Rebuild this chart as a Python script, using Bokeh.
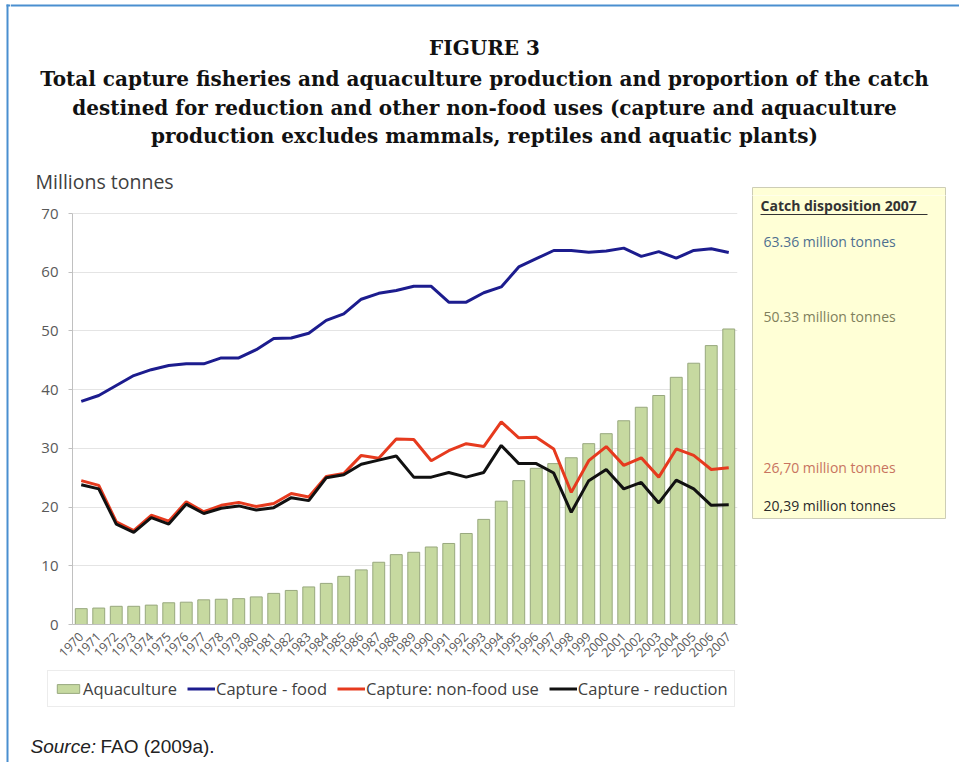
import math
from bokeh.plotting import figure
from bokeh.layouts import row, column
from bokeh.models import (Label, Legend, LegendItem, ColumnDataSource,
                          FactorRange, Range1d, FixedTicker)
from bokeh.embed import file_html
from bokeh.resources import INLINE

years = [str(y) for y in range(1970, 2008)]
aquaculture = [2.7, 2.8, 3.1, 3.1, 3.3, 3.7, 3.8, 4.2, 4.3, 4.4, 4.7, 5.3, 5.8, 6.4, 7.0, 8.2,
               9.3, 10.6, 11.9, 12.3, 13.2, 13.8, 15.5, 17.9, 21.0, 24.5, 26.6, 27.4, 28.4,
               30.8, 32.5, 34.7, 37.0, 39.0, 42.1, 44.5, 47.5, 50.33]
capture_food = [38.0, 39.0, 40.7, 42.4, 43.4, 44.1, 44.4, 44.4, 45.4, 45.4, 46.8, 48.7, 48.8,
                49.6, 51.8, 52.9, 55.4, 56.4, 56.9, 57.6, 57.6, 54.9, 54.9, 56.5, 57.5, 60.9,
                62.3, 63.7, 63.7, 63.4, 63.6, 64.1, 62.7, 63.5, 62.4, 63.7, 64.0, 63.36]
capture_nonfood = [24.5, 23.7, 17.5, 16.0, 18.6, 17.6, 20.9, 19.2, 20.3, 20.8, 20.1, 20.6, 22.3,
                   21.7, 25.2, 25.7, 28.8, 28.3, 31.6, 31.5, 27.9, 29.6, 30.8, 30.3, 34.5, 31.8,
                   31.9, 29.9, 22.5, 27.9, 30.3, 27.1, 28.4, 25.1, 29.9, 28.8, 26.4, 26.70]
capture_reduction = [23.8, 23.1, 17.1, 15.7, 18.2, 17.1, 20.5, 18.9, 19.8, 20.2, 19.5, 19.9, 21.6,
                     21.1, 25.0, 25.5, 27.3, 28.0, 28.7, 25.1, 25.1, 25.9, 25.1, 25.9, 30.5, 27.4,
                     27.4, 25.8, 19.1, 24.5, 26.4, 23.1, 24.2, 20.7, 24.6, 23.1, 20.3, 20.39]
y_ticks = [0, 10, 20, 30, 40, 50, 60, 70]
series_names = ["Aquaculture", "Capture - food", "Capture: non-food use", "Capture - reduction"]
series_colors = ["#C6D9A0", "#1C1C8E", "#E63A1E", "#111111"]

title_lines = [
    "FIGURE 3",
    "Total capture fisheries and aquaculture production and proportion of the catch",
    "destined for reduction and other non-food uses (capture and aquaculture",
    "production excludes mammals, reptiles and aquatic plants)",
]
y_title = "Millions tonnes"
box_title = "Catch disposition 2007"
box_texts = ["63.36 million tonnes", "50.33 million tonnes", "26,70 million tonnes", "20,39 million tonnes"]

BLUE_FRAME = "#4A8FD0"
BOX_FILL = "#FFFFD6"
BOX_LINE = "#CDCDB6"
BAR_LINE = "#98A87E"

# page geometry (pixels)
TOP_H = 195          # title block height
PLOT_BOTTOM = 624    # y pixel of value 0
ROW_BOTTOM = 668
LEG_BOTTOM = 715


def canvas_fig(x0, x1, y0, y1):
    f = figure(width=x1 - x0, height=y1 - y0, x_range=Range1d(x0, x1), y_range=Range1d(y1, y0),
               min_border=0, x_axis_location=None, y_axis_location=None,
               toolbar_location=None, output_backend="svg")
    f.grid.visible = False
    f.outline_line_color = None
    f.background_fill_color = "white"
    f.border_fill_color = "white"
    return f


def label(f, x, y, text, size, color, font="Open Sans", style="normal", align="left"):
    f.add_layout(Label(x=x, y=y, text=text, text_align=align, text_baseline="middle",
                       text_font=font, text_font_style=style, text_font_size=size,
                       text_color=color))


# ---- left strip (blue frame line) ----
strip = canvas_fig(0, 10, 0, 762)
strip.quad(left=6, right=8, top=4, bottom=762, fill_color=BLUE_FRAME, line_color=None)
strip.quad(left=6, right=10, top=4, bottom=6, fill_color=BLUE_FRAME, line_color=None)

# ---- top (title) ----
top = canvas_fig(10, 959, 0, TOP_H)
top.quad(left=10, right=959, top=4, bottom=6, fill_color=BLUE_FRAME, line_color=None)
for t, y in zip(title_lines, [47, 78, 107, 135]):
    label(top, 484, y, t, "20px", "#111111", font="DejaVu Serif", style="bold", align="center")
label(top, 35, 181, y_title, "19.5px", "#404040")
top.quad(left=752, right=945, top=187, bottom=240, fill_color=BOX_FILL, line_color=BOX_LINE,
         line_width=1)

# ---- main chart ----
src = ColumnDataSource(dict(year=years, aqua=aquaculture, food=capture_food,
                            nonfood=capture_nonfood, red=capture_reduction))
MW, MH = 735, ROW_BOTTOM - TOP_H
FRAME_H = PLOT_BOTTOM - TOP_H
px_per_unit = 411 / 70.0
p = figure(width=MW, height=MH, x_range=FactorRange(*years),
           y_range=Range1d(0, FRAME_H / px_per_unit),
           output_backend="svg", toolbar_location=None,
           min_border_left=62, min_border_right=8, min_border_top=0,
           min_border_bottom=MH - FRAME_H)
p.outline_line_color = None
p.background_fill_color = "white"
p.border_fill_color = "white"

p.vbar(x="year", top="aqua", width=0.68, source=src,
       fill_color=series_colors[0], line_color=BAR_LINE, line_width=1)
p.line("year", "food", source=src, line_color=series_colors[1], line_width=3)
p.line("year", "nonfood", source=src, line_color=series_colors[2], line_width=3)
p.line("year", "red", source=src, line_color=series_colors[3], line_width=3)

p.xgrid.grid_line_color = None
p.ygrid.grid_line_color = "#E4E4E4"
p.ygrid.ticker = FixedTicker(ticks=y_ticks)

p.yaxis.ticker = FixedTicker(ticks=y_ticks)
p.yaxis.bounds = (0, 70)
p.yaxis.axis_line_color = "#C0C0C0"
p.yaxis.major_tick_line_color = "#C0C0C0"
p.yaxis.major_tick_out = 4
p.yaxis.major_tick_in = 0
p.yaxis.minor_tick_line_color = None
p.yaxis.major_label_text_font = "Open Sans"
p.yaxis.major_label_text_font_size = "15px"
p.yaxis.major_label_text_color = "#595959"
p.yaxis.major_label_standoff = 10

p.xaxis.axis_line_color = "#C0C0C0"
p.xaxis.major_tick_line_color = None
p.xaxis.major_label_orientation = math.pi / 4
p.xaxis.major_label_text_font = "Open Sans"
p.xaxis.major_label_text_font_size = "12.5px"
p.xaxis.major_label_text_color = "#595959"
p.xaxis.major_label_standoff = 4

# ---- side box ----
side = figure(width=959 - 745, height=MH, x_range=Range1d(745, 959),
              y_range=Range1d(PLOT_BOTTOM, TOP_H),
              min_border_left=0, min_border_right=0, min_border_top=0,
              min_border_bottom=MH - FRAME_H, x_axis_location=None, y_axis_location=None,
              toolbar_location=None, output_backend="svg")
side.grid.visible = False
side.outline_line_color = None
side.background_fill_color = "white"
side.border_fill_color = "white"
side.quad(left=752, right=945, top=180, bottom=518, fill_color=BOX_FILL, line_color=BOX_LINE,
          line_width=1)
label(side, 760, 205, box_title, "14px", "#333333", style="bold")
side.segment(x0=760, x1=927, y0=214, y1=214, line_color="#333333", line_width=1)
for t, c, y in zip(box_texts, ["#4F7090", "#80805C", "#C87460", "#2A2A2A"], [241, 316, 467, 505]):
    label(side, 763, y, t, "14px", c)

# ---- legend strip ----
lf = canvas_fig(10, 959, ROW_BOTTOM, LEG_BOTTOM)
r0 = lf.vbar(x=[-100], top=[1000], bottom=[900], width=1, fill_color=series_colors[0],
             line_color=BAR_LINE)
r1 = lf.line(x=[-100, -90], y=[1000, 1000], line_color=series_colors[1], line_width=3)
r2 = lf.line(x=[-100, -90], y=[1000, 1000], line_color=series_colors[2], line_width=3)
r3 = lf.line(x=[-100, -90], y=[1000, 1000], line_color=series_colors[3], line_width=3)
legend = Legend(items=[LegendItem(label=n, renderers=[r]) for n, r in zip(series_names, [r0, r1, r2, r3])],
                orientation="horizontal", location=(37, 8))
legend.label_text_font = "Open Sans"
legend.label_text_font_size = "16.5px"
legend.label_text_color = "#404040"
legend.glyph_width = 28
legend.glyph_height = 11
legend.label_height = 18
legend.label_standoff = 1
legend.spacing = 10
legend.padding = 6
legend.margin = 0
legend.border_line_color = "#D9D9D9"
legend.background_fill_alpha = 1
lf.add_layout(legend)

# ---- bottom (source) ----
bottom = canvas_fig(10, 959, LEG_BOTTOM, 762)
label(bottom, 30, 746, "Source:", "19px", "#222222", font="Liberation Sans", style="italic")
label(bottom, 100, 746, "FAO (2009a).", "19px", "#222222", font="Liberation Sans")

layout = row(strip, column(top, row(p, side), lf, bottom))
open("out.html", "w").write(file_html(layout, INLINE))
